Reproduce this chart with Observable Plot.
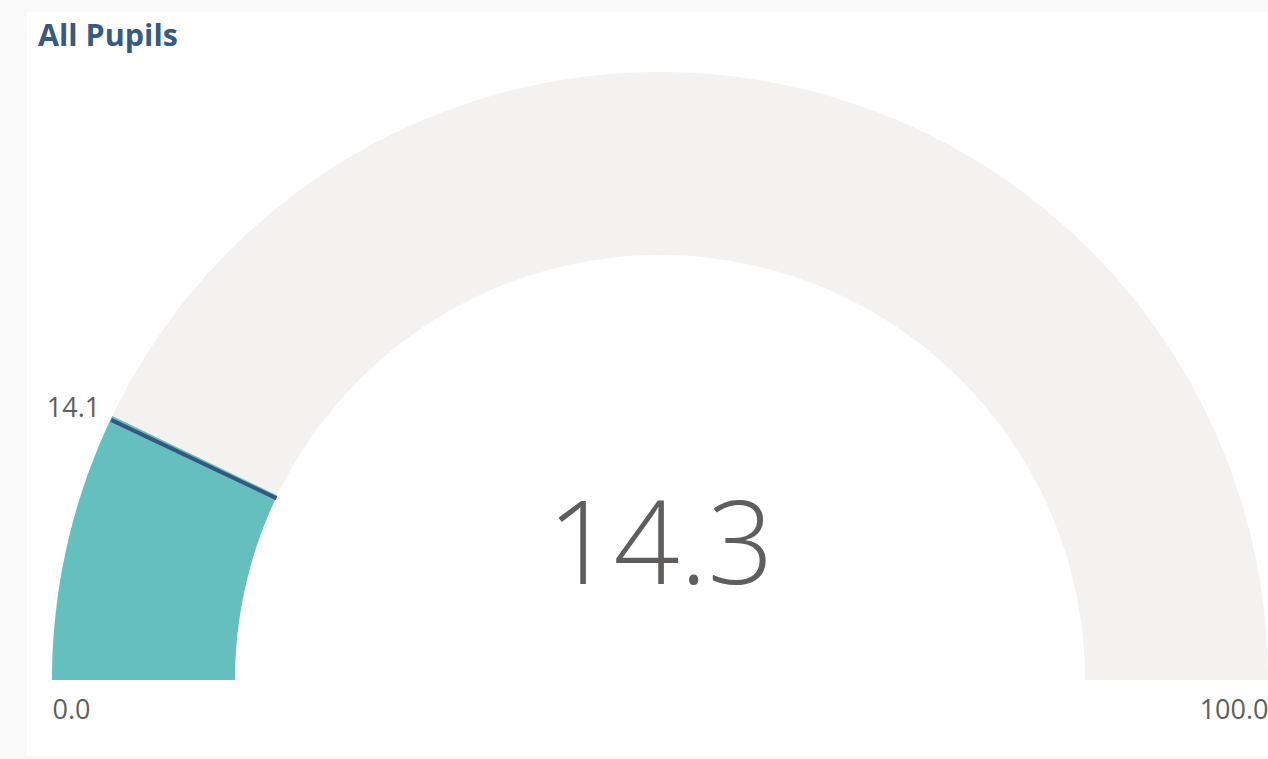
<!DOCTYPE html>
<html>
<head>
<meta charset="utf-8">
<script src="https://cdn.jsdelivr.net/npm/d3@7"></script>
<script src="https://cdn.jsdelivr.net/npm/@observablehq/plot@0.6"></script>
<style>
  html, body { margin: 0; padding: 0; background: #f9f9f9; width: 1268px; height: 759px; overflow: hidden; }
  #card { position: absolute; left: 27px; top: 12px; width: 1241px; height: 744px; background: #ffffff; }
  #title { position: absolute; left: 11px; top: 7px; font-family: "Open Sans", sans-serif; font-weight: 700; font-size: 30.5px; line-height: 30px; color: #365a80; white-space: nowrap; }
  #chart { position: absolute; left: 0; top: 48px; }
</style>
</head>
<body>
<div id="card">
  <div id="title">All Pupils</div>
  <div id="chart"></div>
</div>
<script>
// ---- data ----
const titleText = "All Pupils";
const gaugeMin = 0;
const gaugeMax = 100;
const value = 14.3;
const target = 14.1;
const minLabel = "0.0";
const maxLabel = "100.0";
const valueLabel = "14.3";
const targetLabel = "14.1";

// ---- geometry helpers (unit gauge space) ----
const Ro = 1, Ri = 425 / 608;
const ang = v => Math.PI * (1 - (v - gaugeMin) / (gaugeMax - gaugeMin));
function arc(v0, v1, n) {
  const pts = [];
  for (let i = 0; i <= n; i++) {
    const t = ang(v0 + (v1 - v0) * i / n);
    pts.push({x1: Math.cos(t) * Ro, y1: Math.sin(t) * Ro, x2: Math.cos(t) * Ri, y2: Math.sin(t) * Ri});
  }
  return pts;
}
const bgArc = arc(gaugeMin, gaugeMax, 360);
const valArc = arc(gaugeMin, value, 120);
const tA = ang(target);
const targetLine = [{x1: Math.cos(tA) * Ri, y1: Math.sin(tA) * Ri, x2: Math.cos(tA) * Ro, y2: Math.sin(tA) * Ro}];

const labelY = -0.0493;
const plot = Plot.plot({
  width: 1241,
  height: 696,
  marginLeft: 25,
  marginRight: 0,
  marginTop: 12,
  marginBottom: 76,
  style: {background: "transparent", overflow: "visible"},
  x: {domain: [-1, 1], axis: null},
  y: {domain: [0, 1], axis: null},
  marks: [
    Plot.area(bgArc, {x1: "x1", y1: "y1", x2: "x2", y2: "y2", fill: "#f3f2f1"}),
    Plot.area(valArc, {x1: "x1", y1: "y1", x2: "x2", y2: "y2", fill: "#66bfbf"}),
    Plot.link(targetLine, {x1: "x1", y1: "y1", x2: "x2", y2: "y2", stroke: "#34597e", strokeWidth: 4}),
    Plot.text([minLabel], {x: -1, y: labelY, text: d => d, textAnchor: "start", fontSize: 27, fill: "#605e5c", fontFamily: "Open Sans"}),
    Plot.text([maxLabel], {x: 1, y: labelY, text: d => d, textAnchor: "end", fontSize: 27, fill: "#605e5c", fontFamily: "Open Sans"}),
    Plot.text([targetLabel], {x: Math.cos(tA) * Ro, y: Math.sin(tA) * Ro, text: d => d, textAnchor: "end", dx: -11, dy: -12, fontSize: 27, fill: "#605e5c", fontFamily: "Open Sans"}),
    Plot.text([valueLabel], {x: 0, y: 0.2204, text: d => d, textAnchor: "middle", fontSize: 116, fontWeight: 300, fill: "#605e5c", fontFamily: "Open Sans"})
  ]
});
document.getElementById("chart").appendChild(plot);
document.getElementById("title").textContent = titleText;
</script>
</body>
</html>
